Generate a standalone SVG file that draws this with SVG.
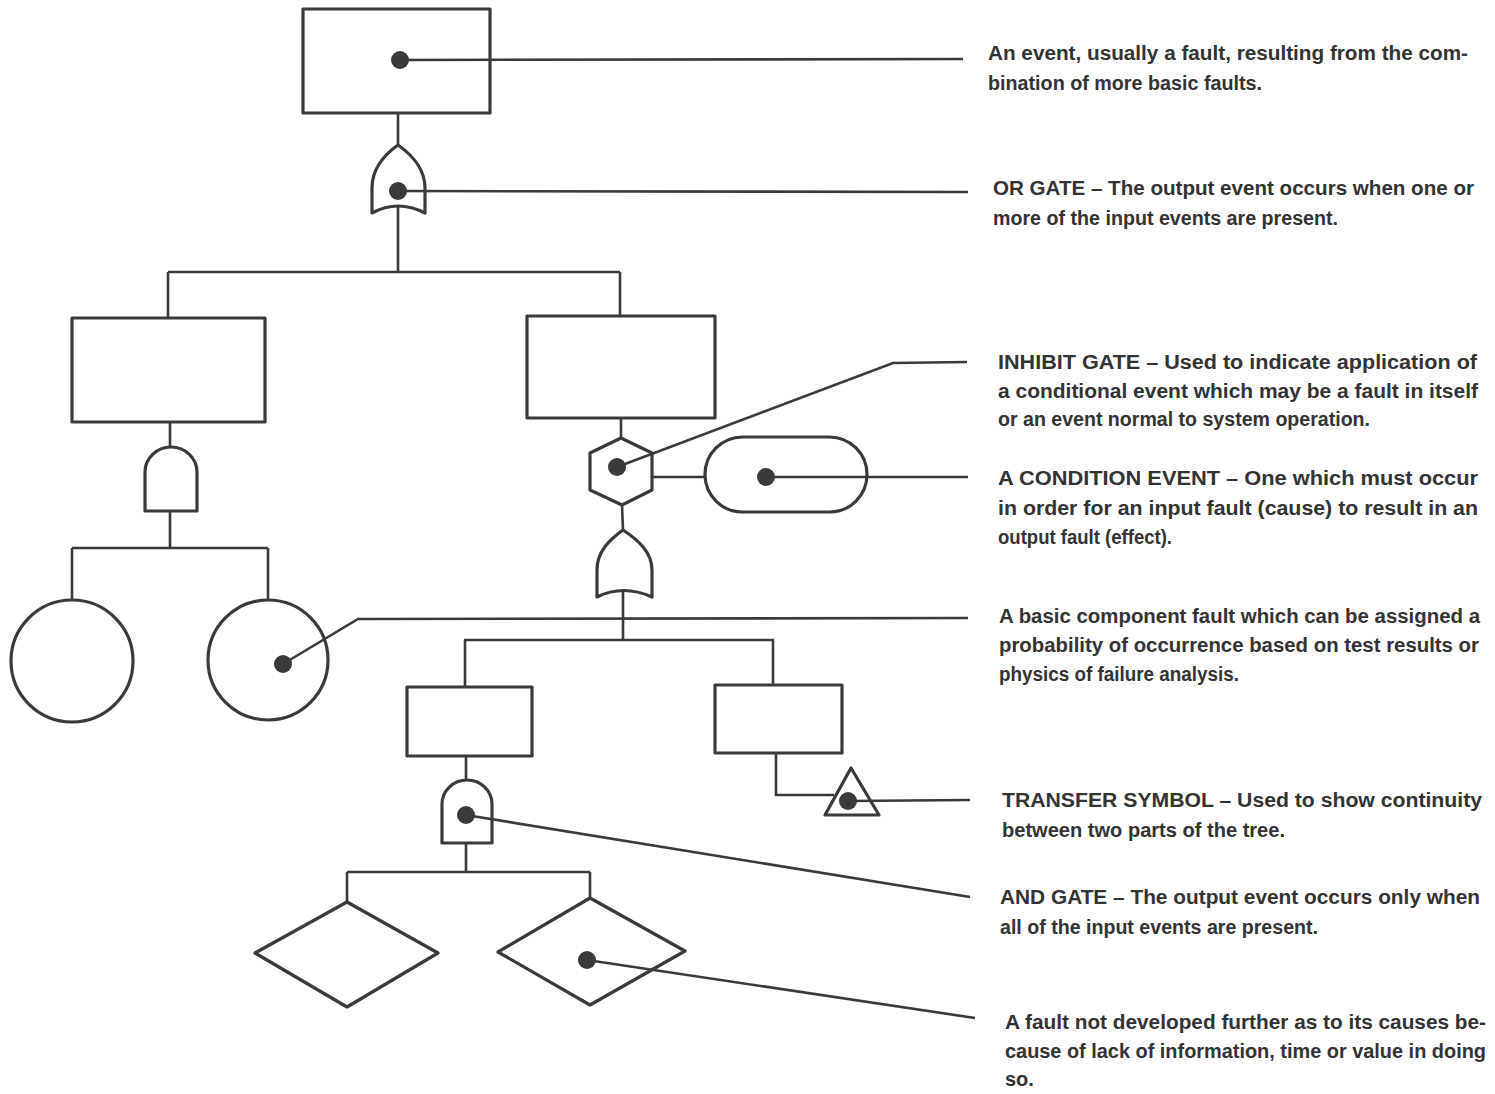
<svg xmlns="http://www.w3.org/2000/svg" width="1495" height="1094" viewBox="0 0 1495 1094">
<style>
  .shape { fill: none; stroke: #3a3a3a; stroke-width: 3.2; stroke-linejoin: round; }
  .wire { fill: none; stroke: #3a3a3a; stroke-width: 2.6; }
  .dot { fill: #3a3a3a; }
  .lbl { font-family: "Liberation Sans Narrow", "Liberation Sans", Arial, sans-serif; font-weight: bold; font-size: 20px; fill: #333; }
</style>
<rect width="1495" height="1094" fill="#ffffff"/>

<g id="connectors">
  <line class="wire" x1="398" y1="113" x2="398" y2="145"/>
  <line class="wire" x1="398" y1="207" x2="398" y2="272"/>
  <line class="wire" x1="168" y1="272" x2="620" y2="272"/>
  <line class="wire" x1="168" y1="272" x2="168" y2="318"/>
  <line class="wire" x1="620" y1="272" x2="620" y2="316"/>
  <line class="wire" x1="170" y1="422" x2="170" y2="447"/>
  <line class="wire" x1="170" y1="511" x2="170" y2="548"/>
  <line class="wire" x1="72" y1="548" x2="268" y2="548"/>
  <line class="wire" x1="72" y1="548" x2="72" y2="600"/>
  <line class="wire" x1="268" y1="548" x2="268" y2="600"/>
  <line class="wire" x1="621" y1="418" x2="621" y2="438"/>
  <line class="wire" x1="652" y1="477" x2="705" y2="477"/>
  <line class="wire" x1="622" y1="505" x2="623" y2="530"/>
  <line class="wire" x1="623" y1="592" x2="623" y2="640"/>
  <line class="wire" x1="464" y1="640" x2="774" y2="640"/>
  <line class="wire" x1="465" y1="640" x2="465" y2="687"/>
  <line class="wire" x1="773" y1="640" x2="773" y2="685"/>
  <line class="wire" x1="466" y1="756" x2="466" y2="780"/>
  <line class="wire" x1="466" y1="843" x2="466" y2="872"/>
  <line class="wire" x1="347" y1="872" x2="590" y2="872"/>
  <line class="wire" x1="347" y1="872" x2="347" y2="902"/>
  <line class="wire" x1="590" y1="872" x2="590" y2="898"/>
  <polyline class="wire" points="776,753 776,795 834,795"/>
  <line class="wire" x1="400" y1="60" x2="963" y2="59"/>
  <line class="wire" x1="398" y1="191" x2="968" y2="192"/>
  <polyline class="wire" points="617,467 893,363 967,362"/>
  <line class="wire" x1="765" y1="477" x2="968" y2="477"/>
  <polyline class="wire" points="283,664 358,619 968,618"/>
  <line class="wire" x1="848" y1="801" x2="970" y2="800"/>
  <line class="wire" x1="466" y1="815" x2="970" y2="897"/>
  <line class="wire" x1="587" y1="960" x2="975" y2="1018"/>
</g>

<g id="top-event">
  <rect class="shape" x="303" y="9" width="187" height="104"/>
  <circle class="dot" cx="400" cy="60" r="9"/>
</g>
<g id="or-gate-top">
  <path class="shape" d="M398,145 C384,155 372,168 372,188 L372,213 Q398,199 425,213 L425,188 C425,168 412,155 398,145 Z"/>
  <circle class="dot" cx="398" cy="191" r="9"/>
</g>
<g id="event-left">
  <rect class="shape" x="72" y="318" width="193" height="104"/>
</g>
<g id="event-right">
  <rect class="shape" x="527" y="316" width="188" height="102"/>
</g>
<g id="and-gate-left">
  <path class="shape" d="M145,511 L145,472 A26,25 0 0 1 197,472 L197,511 Z"/>
</g>
<g id="basic-left">
  <circle class="shape" cx="72" cy="661" r="61"/>
</g>
<g id="basic-right">
  <circle class="shape" cx="268" cy="660" r="60"/>
  <circle class="dot" cx="283" cy="664" r="9"/>
</g>
<g id="inhibit-gate">
  <polygon class="shape" points="621,438 590,453 590,490 622,505 652,490 652,453"/>
  <circle class="dot" cx="617" cy="467" r="9"/>
</g>
<g id="condition-event">
  <rect class="shape" x="705" y="437" width="162" height="75" rx="37.5"/>
  <circle class="dot" cx="766" cy="477" r="9"/>
</g>
<g id="or-gate-lower">
  <path class="shape" d="M623,530 C609,540 597,552 597,570 L597,597 Q623,584 652,597 L652,570 C652,552 638,540 623,530 Z"/>
</g>
<g id="event-lower-left">
  <rect class="shape" x="407" y="687" width="125" height="69"/>
</g>
<g id="event-lower-right">
  <rect class="shape" x="715" y="685" width="127" height="68"/>
</g>
<g id="and-gate-lower">
  <path class="shape" d="M442,843 L442,804 A25,24 0 0 1 492,804 L492,843 Z"/>
  <circle class="dot" cx="466" cy="815" r="9"/>
</g>
<g id="transfer-symbol">
  <polygon class="shape" points="851,768 825,815 879,815"/>
  <circle class="dot" cx="848" cy="801" r="9"/>
</g>
<g id="undeveloped-left">
  <polygon class="shape" points="347,902 438,953 347,1007 255,953"/>
</g>
<g id="undeveloped-right">
  <polygon class="shape" points="590,898 685,951 590,1005 498,952"/>
  <circle class="dot" cx="587" cy="960" r="9"/>
</g>

<g id="labels">
  <text class="lbl" x="988" y="60" textLength="480" lengthAdjust="spacingAndGlyphs">An event, usually a fault, resulting from the com-</text>
  <text class="lbl" x="988" y="90" textLength="274" lengthAdjust="spacingAndGlyphs">bination of more basic faults.</text>
  <text class="lbl" x="993" y="195" textLength="481" lengthAdjust="spacingAndGlyphs">OR GATE – The output event occurs when one or</text>
  <text class="lbl" x="993" y="225" textLength="345" lengthAdjust="spacingAndGlyphs">more of the input events are present.</text>
  <text class="lbl" x="998" y="369" textLength="479" lengthAdjust="spacingAndGlyphs">INHIBIT GATE – Used to indicate application of</text>
  <text class="lbl" x="998" y="398" textLength="480" lengthAdjust="spacingAndGlyphs">a conditional event which may be a fault in itself</text>
  <text class="lbl" x="998" y="426" textLength="372" lengthAdjust="spacingAndGlyphs">or an event normal to system operation.</text>
  <text class="lbl" x="998" y="485" textLength="480" lengthAdjust="spacingAndGlyphs">A CONDITION EVENT – One which must occur</text>
  <text class="lbl" x="998" y="515" textLength="480" lengthAdjust="spacingAndGlyphs">in order for an input fault (cause) to result in an</text>
  <text class="lbl" x="998" y="544" textLength="174" lengthAdjust="spacingAndGlyphs">output fault (effect).</text>
  <text class="lbl" x="999" y="623" textLength="481" lengthAdjust="spacingAndGlyphs">A basic component fault which can be assigned a</text>
  <text class="lbl" x="999" y="652" textLength="480" lengthAdjust="spacingAndGlyphs">probability of occurrence based on test results or</text>
  <text class="lbl" x="999" y="681" textLength="240" lengthAdjust="spacingAndGlyphs">physics of failure analysis.</text>
  <text class="lbl" x="1002" y="807" textLength="480" lengthAdjust="spacingAndGlyphs">TRANSFER SYMBOL – Used to show continuity</text>
  <text class="lbl" x="1002" y="837" textLength="283" lengthAdjust="spacingAndGlyphs">between two parts of the tree.</text>
  <text class="lbl" x="1000" y="904" textLength="480" lengthAdjust="spacingAndGlyphs">AND GATE – The output event occurs only when</text>
  <text class="lbl" x="1000" y="934" textLength="318" lengthAdjust="spacingAndGlyphs">all of the input events are present.</text>
  <text class="lbl" x="1005" y="1029" textLength="481" lengthAdjust="spacingAndGlyphs">A fault not developed further as to its causes be-</text>
  <text class="lbl" x="1005" y="1058" textLength="481" lengthAdjust="spacingAndGlyphs">cause of lack of information, time or value in doing</text>
  <text class="lbl" x="1005" y="1086">so.</text>
</g>
</svg>
